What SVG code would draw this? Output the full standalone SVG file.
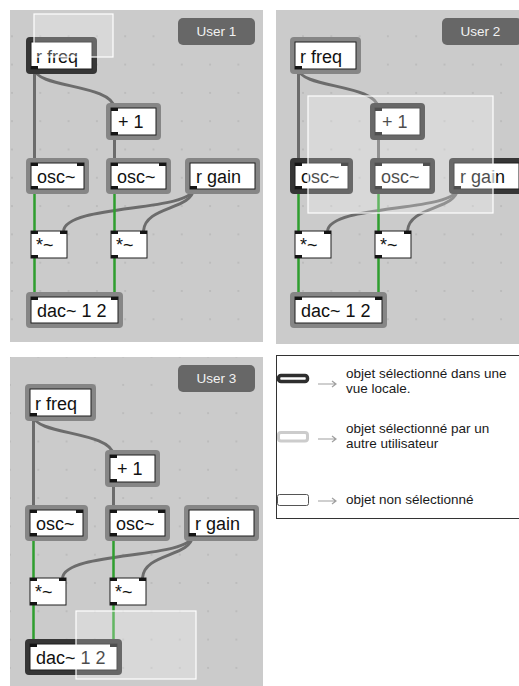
<svg xmlns="http://www.w3.org/2000/svg" width="519" height="686" viewBox="0 0 519 686">
<style>
.panel{fill:#cbcbcb}
.halo{fill:#868686}
.halo.sel{fill:#363636}
.box{fill:#fff;stroke:#1e1e1e;stroke-width:1}
.io{fill:#151515}
.lbl{font-family:"Liberation Sans",Arial,sans-serif;font-size:18px;fill:#111}
.cord{fill:none;stroke:#6c6c6c;stroke-width:3}
.sig{fill:none;stroke:#2f9e2f;stroke-width:2.5}
.ov{fill:#fff;fill-opacity:0.25;stroke:#fff;stroke-width:1.2}
.ulab{fill:#676767}
.utxt{font-family:"Liberation Sans",Arial,sans-serif;font-size:13.5px;fill:#f2f2f2;text-anchor:middle}
.leg{font-family:"Liberation Sans",Arial,sans-serif;font-size:13.5px;fill:#1a1a1a}
.arr{fill:none;stroke:#a0a0a0;stroke-width:1.2}
</style>
<defs>
<pattern id="g1" patternUnits="userSpaceOnUse" x="11" y="7" width="28.3" height="28.3"><circle cx="1" cy="1" r="0.8" fill="#a8a8a8"/></pattern>
<pattern id="g2" patternUnits="userSpaceOnUse" x="19" y="7" width="28.3" height="28.3"><circle cx="1" cy="1" r="0.8" fill="#a8a8a8"/></pattern>
<pattern id="g3" patternUnits="userSpaceOnUse" x="9" y="16" width="28.3" height="28.3"><circle cx="1" cy="1" r="0.8" fill="#a8a8a8"/></pattern>
</defs>
<rect width="519" height="686" fill="#fff"/>

<!-- Panel 1 -->
<g id="panel1">
<rect class="panel" x="10" y="10" width="253" height="332"/>
<rect x="10" y="10" width="253" height="332" fill="url(#g1)"/>
<g id="p1-user"><rect class="ulab" x="178" y="18" width="77" height="27" rx="5"/><text class="utxt" x="216.5" y="36">User 1</text></g>
<g id="p1-connectors">
<path class="cord" d="M34.5,69 V163"/>
<path class="cord" d="M34.5,69 C36,88 112,84 114.5,108"/>
<path class="cord" d="M114.5,135 V163"/>
<path class="cord" d="M193.5,189 C190,212 66,204 63.5,231"/>
<path class="cord" d="M193.5,189 C192,210 145,206 143.5,231"/>
<path class="sig" d="M34.5,189 V231 M34.5,258 V297 M114.5,189 V231 M114.5,258 V297"/>
</g>
<g id="p1-rfreq"><rect class="halo sel" x="26" y="37" width="71" height="37" rx="4"/><rect class="box" x="31" y="42" width="61" height="27"/><rect class="io" x="31" y="66" width="7" height="3"/><text class="lbl" x="36" y="63">r freq</text></g>
<g id="p1-plus1"><rect class="halo" x="106" y="103" width="55" height="37" rx="4"/><rect class="box" x="111" y="108" width="45" height="27"/><rect class="io" x="111" y="108" width="7" height="3"/><rect class="io" x="111" y="132" width="7" height="3"/><text class="lbl" x="118" y="128">+ 1</text></g>
<g id="p1-osc1"><rect class="halo" x="26" y="158" width="63" height="36" rx="4"/><rect class="box" x="31" y="163" width="53" height="26"/><rect class="io" x="31" y="163" width="7" height="3"/><rect class="io" x="77" y="163" width="7" height="3"/><rect class="io" x="31" y="186" width="7" height="3"/><text class="lbl" x="37" y="183">osc~</text></g>
<g id="p1-osc2"><rect class="halo" x="106" y="158" width="65" height="36" rx="4"/><rect class="box" x="111" y="163" width="55" height="26"/><rect class="io" x="111" y="163" width="7" height="3"/><rect class="io" x="159" y="163" width="7" height="3"/><rect class="io" x="111" y="186" width="7" height="3"/><text class="lbl" x="117" y="183">osc~</text></g>
<g id="p1-rgain"><rect class="halo" x="185" y="158" width="75" height="36" rx="4"/><rect class="box" x="190" y="163" width="65" height="26"/><rect class="io" x="190" y="186" width="7" height="3"/><text class="lbl" x="196" y="183">r gain</text></g>
<g id="p1-mul1"><rect class="box" x="31" y="231" width="36" height="27"/><rect class="io" x="31" y="231" width="7" height="3"/><rect class="io" x="60" y="231" width="7" height="3"/><rect class="io" x="31" y="255" width="7" height="3"/><text class="lbl" x="36" y="251">*~</text></g>
<g id="p1-mul2"><rect class="box" x="111" y="231" width="36" height="27"/><rect class="io" x="111" y="231" width="7" height="3"/><rect class="io" x="140" y="231" width="7" height="3"/><rect class="io" x="111" y="255" width="7" height="3"/><text class="lbl" x="116" y="251">*~</text></g>
<g id="p1-dac"><rect class="halo" x="26" y="292" width="97" height="36" rx="4"/><rect class="box" x="31" y="297" width="87" height="26"/><rect class="io" x="31" y="297" width="7" height="3"/><rect class="io" x="111" y="297" width="7" height="3"/><text class="lbl" x="37" y="317">dac~ 1 2</text></g>
<rect class="ov" x="34" y="14" width="79" height="43"/>
</g>

<!-- Panel 2 -->
<g id="panel2">
<rect class="panel" x="276" y="10" width="250" height="334"/>
<rect x="276" y="10" width="250" height="334" fill="url(#g2)"/>
<g transform="translate(264,0)">
<g id="p2-user"><rect class="ulab" x="178" y="18" width="80" height="27" rx="5"/><text class="utxt" x="216.5" y="36">User 2</text></g>
<g id="p2-connectors">
<path class="cord" d="M34.5,69 V163"/>
<path class="cord" d="M34.5,69 C36,88 112,84 114.5,108"/>
<path class="cord" d="M114.5,135 V163"/>
<path class="cord" d="M193.5,189 C190,212 66,204 63.5,231"/>
<path class="cord" d="M193.5,189 C192,210 145,206 143.5,231"/>
<path class="sig" d="M34.5,189 V231 M34.5,258 V297 M114.5,189 V231 M114.5,258 V297"/>
</g>
<g id="p2-rfreq"><rect class="halo" x="26" y="37" width="71" height="37" rx="4"/><rect class="box" x="31" y="42" width="61" height="27"/><rect class="io" x="31" y="66" width="7" height="3"/><text class="lbl" x="36" y="63">r freq</text></g>
<g id="p2-plus1"><rect class="halo sel" x="106" y="103" width="55" height="37" rx="4"/><rect class="box" x="111" y="108" width="45" height="27"/><rect class="io" x="111" y="108" width="7" height="3"/><rect class="io" x="111" y="132" width="7" height="3"/><text class="lbl" x="118" y="128">+ 1</text></g>
<g id="p2-osc1"><rect class="halo sel" x="26" y="158" width="63" height="36" rx="4"/><rect class="box" x="31" y="163" width="53" height="26"/><rect class="io" x="31" y="163" width="7" height="3"/><rect class="io" x="77" y="163" width="7" height="3"/><rect class="io" x="31" y="186" width="7" height="3"/><text class="lbl" x="37" y="183">osc~</text></g>
<g id="p2-osc2"><rect class="halo sel" x="106" y="158" width="65" height="36" rx="4"/><rect class="box" x="111" y="163" width="55" height="26"/><rect class="io" x="111" y="163" width="7" height="3"/><rect class="io" x="159" y="163" width="7" height="3"/><rect class="io" x="111" y="186" width="7" height="3"/><text class="lbl" x="117" y="183">osc~</text></g>
<g id="p2-rgain"><rect class="halo sel" x="185" y="158" width="75" height="36" rx="4"/><rect class="box" x="190" y="163" width="65" height="26"/><rect class="io" x="190" y="186" width="7" height="3"/><text class="lbl" x="196" y="183">r gain</text></g>
<g id="p2-mul1"><rect class="box" x="31" y="231" width="36" height="27"/><rect class="io" x="31" y="231" width="7" height="3"/><rect class="io" x="60" y="231" width="7" height="3"/><rect class="io" x="31" y="255" width="7" height="3"/><text class="lbl" x="36" y="251">*~</text></g>
<g id="p2-mul2"><rect class="box" x="111" y="231" width="36" height="27"/><rect class="io" x="111" y="231" width="7" height="3"/><rect class="io" x="140" y="231" width="7" height="3"/><rect class="io" x="111" y="255" width="7" height="3"/><text class="lbl" x="116" y="251">*~</text></g>
<g id="p2-dac"><rect class="halo" x="26" y="292" width="97" height="36" rx="4"/><rect class="box" x="31" y="297" width="87" height="26"/><rect class="io" x="31" y="297" width="7" height="3"/><rect class="io" x="111" y="297" width="7" height="3"/><text class="lbl" x="37" y="317">dac~ 1 2</text></g>
<rect class="ov" x="44" y="96" width="185" height="117"/>
</g>
</g>

<!-- Panel 3 -->
<g id="panel3">
<rect class="panel" x="10" y="357" width="253" height="335"/>
<rect x="10" y="357" width="253" height="335" fill="url(#g3)"/>
<g transform="translate(-1,347)">
<g id="p3-user"><rect class="ulab" x="179" y="18" width="77" height="27" rx="5"/><text class="utxt" x="217.5" y="36">User 3</text></g>
<g id="p3-connectors">
<path class="cord" d="M34.5,69 V163"/>
<path class="cord" d="M34.5,69 C36,88 112,84 114.5,108"/>
<path class="cord" d="M114.5,135 V163"/>
<path class="cord" d="M193.5,189 C190,212 66,204 63.5,231"/>
<path class="cord" d="M193.5,189 C192,210 145,206 143.5,231"/>
<path class="sig" d="M34.5,189 V231 M34.5,258 V297 M114.5,189 V231 M114.5,258 V297"/>
</g>
<g id="p3-rfreq"><rect class="halo" x="26" y="37" width="71" height="37" rx="4"/><rect class="box" x="31" y="42" width="61" height="27"/><rect class="io" x="31" y="66" width="7" height="3"/><text class="lbl" x="36" y="63">r freq</text></g>
<g id="p3-plus1"><rect class="halo" x="106" y="103" width="55" height="37" rx="4"/><rect class="box" x="111" y="108" width="45" height="27"/><rect class="io" x="111" y="108" width="7" height="3"/><rect class="io" x="111" y="132" width="7" height="3"/><text class="lbl" x="118" y="128">+ 1</text></g>
<g id="p3-osc1"><rect class="halo" x="26" y="158" width="63" height="36" rx="4"/><rect class="box" x="31" y="163" width="53" height="26"/><rect class="io" x="31" y="163" width="7" height="3"/><rect class="io" x="77" y="163" width="7" height="3"/><rect class="io" x="31" y="186" width="7" height="3"/><text class="lbl" x="37" y="183">osc~</text></g>
<g id="p3-osc2"><rect class="halo" x="106" y="158" width="65" height="36" rx="4"/><rect class="box" x="111" y="163" width="55" height="26"/><rect class="io" x="111" y="163" width="7" height="3"/><rect class="io" x="159" y="163" width="7" height="3"/><rect class="io" x="111" y="186" width="7" height="3"/><text class="lbl" x="117" y="183">osc~</text></g>
<g id="p3-rgain"><rect class="halo" x="185" y="158" width="75" height="36" rx="4"/><rect class="box" x="190" y="163" width="65" height="26"/><rect class="io" x="190" y="186" width="7" height="3"/><text class="lbl" x="196" y="183">r gain</text></g>
<g id="p3-mul1"><rect class="box" x="31" y="231" width="36" height="27"/><rect class="io" x="31" y="231" width="7" height="3"/><rect class="io" x="60" y="231" width="7" height="3"/><rect class="io" x="31" y="255" width="7" height="3"/><text class="lbl" x="36" y="251">*~</text></g>
<g id="p3-mul2"><rect class="box" x="111" y="231" width="36" height="27"/><rect class="io" x="111" y="231" width="7" height="3"/><rect class="io" x="140" y="231" width="7" height="3"/><rect class="io" x="111" y="255" width="7" height="3"/><text class="lbl" x="116" y="251">*~</text></g>
<g id="p3-dac"><rect class="halo sel" x="26" y="292" width="97" height="36" rx="4"/><rect class="box" x="31" y="297" width="87" height="26"/><rect class="io" x="31" y="297" width="7" height="3"/><rect class="io" x="111" y="297" width="7" height="3"/><text class="lbl" x="37" y="317">dac~ 1 2</text></g>
<rect class="ov" x="77" y="264" width="120" height="68"/>
</g>
</g>

<!-- Legend -->
<g id="legend">
<rect x="276.5" y="355.5" width="260" height="163" fill="#fff" stroke="#333" stroke-width="1"/>
<g id="leg-local"><rect x="278.5" y="375.5" width="29" height="6" rx="2.5" fill="#fff" stroke="#2e2e2e" stroke-width="3.5"/><path class="arr" d="M318,384 H336 M332,381 L336,384 L332,387"/><text class="leg" x="346" y="377.5">objet sélectionné dans une</text><text class="leg" x="346" y="393">vue locale.</text></g>
<g id="leg-other"><rect x="278.5" y="432.5" width="29" height="8.5" rx="2.5" fill="#fff" stroke="#cccccc" stroke-width="3"/><path class="arr" d="M318,439 H336 M332,436 L336,439 L332,442"/><text class="leg" x="346" y="432.5">objet sélectionné par un</text><text class="leg" x="346" y="448">autre utilisateur</text></g>
<g id="leg-none"><rect x="277.5" y="494.5" width="31" height="11" rx="2" fill="#fff" stroke="#555" stroke-width="1"/><path class="arr" d="M318,501 H336 M332,498 L336,501 L332,504"/><text class="leg" x="346" y="504">objet non sélectionné</text></g>
</g>
</svg>
